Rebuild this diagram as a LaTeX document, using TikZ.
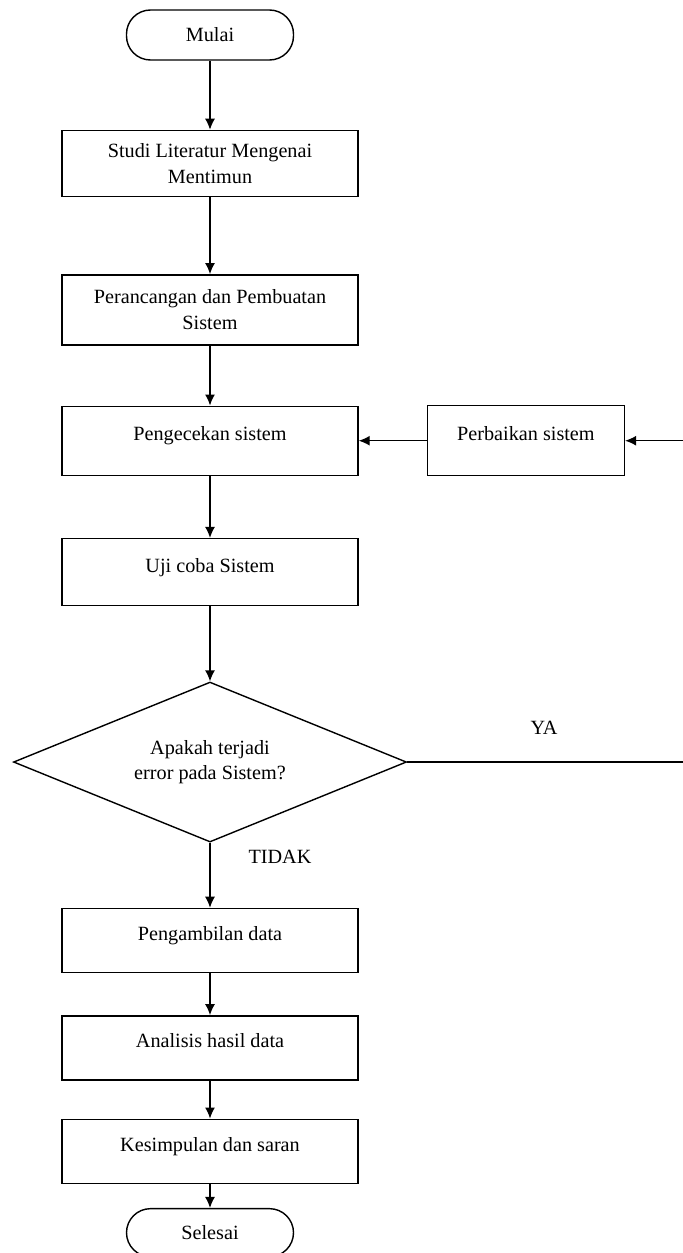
\documentclass[tikz,border=0pt]{standalone}
\usepackage{fontspec}
\setmainfont{Liberation Serif}
\usetikzlibrary{arrows.meta,positioning,shapes.geometric}

\begin{document}
\begin{tikzpicture}[thick, every node/.style={font=\fontsize{11.5}{14.5}\selectfont},
			b/.style={draw, minimum width=5.92cm, minimum height=1.3cm, align=center, inner sep=1pt},
			one/.style={text height=2ex, text depth=2ex},
			t/.style={draw, rounded corners=0.48cm, minimum width=3.34cm, minimum height=1cm},
			d/.style={draw, diamond, aspect=2.46, minimum width=7.86cm, minimum height=3.2cm, inner sep=0pt, align=center}]
			\useasboundingbox (0,0) rectangle (13.64,-25.06);
			\node[t] (mulai) at (4.2,-0.7) {Mulai};
			\node[b, below=1.38cm of mulai, minimum height=1.32cm] (studi) {Studi Literatur Mengenai\\Mentimun};
			\node[b, below=1.54cm of studi, minimum height=1.4cm] (rancang) {Perancangan dan Pembuatan\\Sistem};
			\node[b, one, below=1.2cm of rancang, minimum height=1.38cm] (cek) {Pengecekan sistem};
			\node[b, one, right=1.36cm of cek, minimum width=3.94cm, minimum height=1.4cm] (perbaikan) {Perbaikan sistem};
			\node[b, one, below=1.24cm of cek, minimum height=1.34cm] (uji) {Uji coba Sistem};
			\node[d, below=1.5cm of uji] (error) {Apakah terjadi\\error pada Sistem?};
			\node[b, one, below=1.3cm of error, minimum height=1.28cm] (ambil) {Pengambilan data};
			\node[b, one, below=0.84cm of ambil, minimum height=1.28cm] (analisis) {Analisis hasil data};
			\node[b, one, below=0.76cm of analisis, minimum height=1.28cm] (simpul) {Kesimpulan dan saran};
			\node[t, below=0.48cm of simpul, minimum height=0.96cm] (selesai) {Selesai};
			\node (ya) at (10.88,-14.56) {YA};
			\node (tidak) at (5.6,-17.14) {TIDAK};
			\coordinate (tepi) at (13.9,0);
			\draw[-{Latex[length=2.2mm,width=2mm]}] (mulai) -- (studi);
			\draw[-{Latex[length=2.2mm,width=2mm]}] (studi) -- (rancang);
			\draw[-{Latex[length=2.2mm,width=2mm]}] (rancang) -- (cek);
			\draw[-{Latex[length=2.2mm,width=2mm]}] (cek) -- (uji);
			\draw[-{Latex[length=2.2mm,width=2mm]}] (uji) -- (error);
			\draw[-{Latex[length=2.2mm,width=2mm]}] (error) -- (ambil);
			\draw[-{Latex[length=2.2mm,width=2mm]}] (ambil) -- (analisis);
			\draw[-{Latex[length=2.2mm,width=2mm]}] (analisis) -- (simpul);
			\draw[-{Latex[length=2.2mm,width=2mm]}] (simpul) -- (selesai);
			\draw[-{Latex[length=2.2mm,width=2mm]}] (perbaikan) -- (cek);
			\draw[-{Latex[length=2.2mm,width=2mm]}] (error.east) -- (error.east -| tepi) |- (perbaikan.east);
		\end{tikzpicture}
\end{document}
